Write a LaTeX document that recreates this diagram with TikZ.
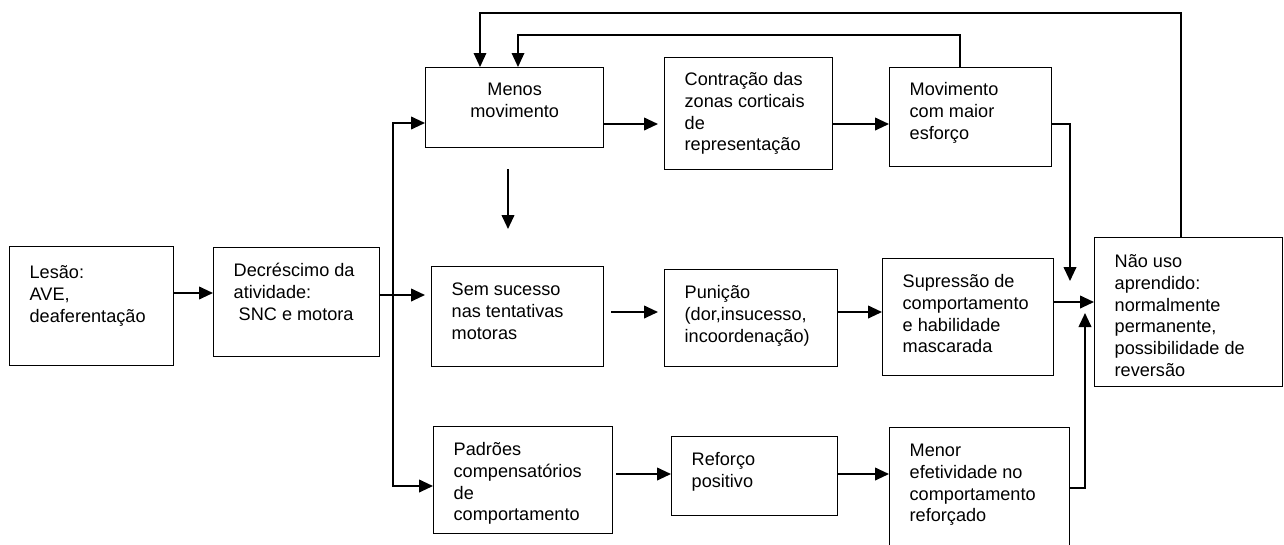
\documentclass[tikz,border=0pt]{standalone}
\usepackage{fontspec}
\setmainfont{Liberation Sans}
\usetikzlibrary{arrows.meta}
\newdimen\pxl \pxl=0.75pt
\newcommand{\bloco}[4][10.3pt]{\parbox[c][#3\pxl][t]{#2\pxl}{\vspace*{#1}\raggedright\leftskip=15pt\strut #4}}
\newcommand{\blococ}[4][9.6pt]{\parbox[c][#3\pxl][t]{#2\pxl}{\vspace*{#1}\centering\strut #4}}
\begin{document}
\begin{tikzpicture}[x=0.75pt,y=-0.75pt,
	caixa/.style={draw,line width=1pt,inner sep=0pt,anchor=north west,font=\fontsize{13.6pt}{16.3pt}\selectfont},
	seta/.style={line width=1.4pt,-{Triangle[length=10.5pt,width=9.5pt]}},
	volta/.style={line width=0.9pt,-{Triangle[length=10.5pt,width=9.5pt]}}]
	\useasboundingbox (0,0) rectangle (1284,544);
	\node[caixa] (lesao) at (9,246) {\bloco[12.6pt]{164}{119}{Lesão:\\AVE,\\deaferentação}};
	\node[caixa] (decrescimo) at (213,247) {\bloco{166}{109}{Decréscimo da\\atividade:\\\ SNC e motora}};
	\node[caixa] (menos) at (425,67) {\blococ{178}{80}{Menos\\movimento}};
	\node[caixa] (contracao) at (664,57) {\bloco[9.6pt]{168}{112}{Contração das\\zonas corticais\\de\\representação}};
	\node[caixa] (esforco) at (889,67) {\bloco[9.6pt]{162}{99}{Movimento\\com maior\\esforço}};
	\node[caixa] (naouso) at (1094,237) {\bloco[11.1pt]{188}{149}{Não uso\\aprendido:\\normalmente\\permanente,\\possibilidade de\\reversão}};
	\node[caixa] (supressao) at (882,258) {\bloco{171}{117}{Supressão de\\comportamento\\e habilidade\\mascarada}};
	\node[caixa] (sucesso) at (431,266) {\bloco{172}{100}{Sem sucesso\\nas tentativas\\motoras}};
	\node[caixa] (punicao) at (664,269) {\bloco{173}{97}{Punição\\(dor,insucesso,\\incoordenação)}};
	\node[caixa] (padroes) at (433,426) {\bloco{179}{107}{Padrões\\compensatórios\\de\\comportamento}};
	\node[caixa] (reforco) at (671,436) {\bloco{166}{79}{Reforço\\positivo}};
	\node[caixa] (menor) at (889,427) {\bloco{180}{121}{Menor\\efetividade no\\comportamento\\reforçado}};
	\coordinate (linha-a) at (0,293);
	\coordinate (linha-b) at (0,295);
	\coordinate (linha-c) at (0,124);
	\coordinate (linha-d) at (0,312);
	\coordinate (linha-e) at (0,302);
	\coordinate (linha-f) at (0,474);
	\coordinate (tronco-topo) at (393,123);
	\coordinate (tronco-base) at (393,486);
	\coordinate (queda) at (1070,281);
	\coordinate (subida) at (1085,313);
	\coordinate (solta-a) at (508,169);
	\coordinate (solta-b) at (508,229);
	\coordinate (volta-a) at (960,35);
	\coordinate (volta-b) at (518,35);
	\coordinate (volta-c) at (1181,13);
	\coordinate (volta-d) at (480,13);
	\draw[seta] (lesao.east |- linha-a) -- (decrescimo.west |- linha-a);
	\draw[seta,shorten >=4.5pt] (decrescimo.east |- linha-b) -- (sucesso.west |- linha-b);
	\draw[seta] (tronco-base) -- (tronco-topo) -- (menos.west |- tronco-topo);
	\draw[seta] (tronco-topo) -- (tronco-base) -- (padroes.west |- tronco-base);
	\draw[seta,shorten >=4.5pt] (menos.east |- linha-c) -- (contracao.west |- linha-c);
	\draw[seta] (contracao.east |- linha-c) -- (esforco.west |- linha-c);
	\draw[seta] (esforco.east |- linha-c) -| (queda);
	\draw[seta] (solta-a) -- (solta-b);
	\draw[seta,shorten <=5pt,shorten >=4.5pt] (sucesso.east |- linha-d) -- (punicao.west |- linha-d);
	\draw[seta] (punicao.east |- linha-d) -- (supressao.west |- linha-d);
	\draw[seta] (supressao.east |- linha-e) -- (naouso.west |- linha-e);
	\draw[seta,shorten <=2pt] (padroes.east |- linha-f) -- (reforco.west |- linha-f);
	\draw[seta] (reforco.east |- linha-f) -- (menor.west |- linha-f);
	\draw[seta] (menor.east) -| (subida);
	\draw[volta] (naouso.north -| volta-c) -- (volta-c) -- (volta-d) -- (menos.north -| volta-d);
	\draw[volta] (esforco.north -| volta-a) -- (volta-a) -- (volta-b) -- (menos.north -| volta-b);
\end{tikzpicture}
\end{document}
